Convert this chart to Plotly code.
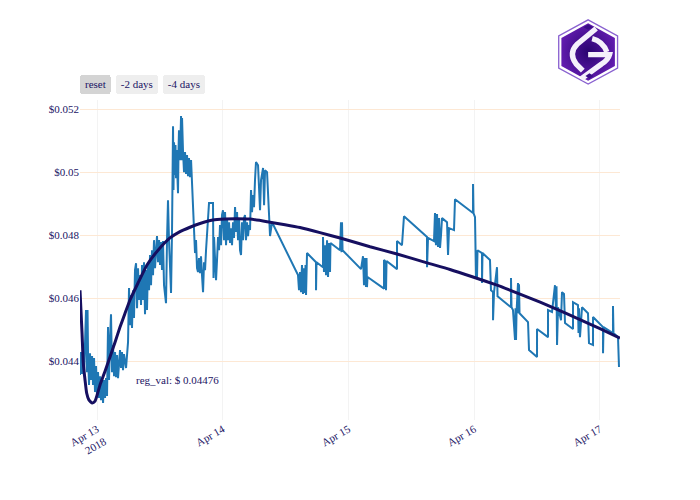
import base64
import pandas as pd
import plotly.graph_objects as go

base_day = "2018-04-13"
price_hours = [
-3.25,-3.05,-2.86,-2.67,-2.48,-2.29,-2.10,-1.91,-1.81,-1.72,-1.53,-1.34,-1.15,-0.95,-0.76,-0.57,-0.38,-0.19,0,.19,.38,.57,.76,.95,1.15,1.34,1.53,1.72,1.91,2.10,2.29,2.48,2.67,2.86,3.05,3.25,3.44,3.63,3.82,4.01,4.39,4.58,4.77,4.96,5.15,5.54,5.92,6.11,6.30,6.49,6.68,6.87,7.06,7.25,7.45,7.64,7.83,8.02,8.21,8.40,8.59,8.78,8.97,9.16,9.35,9.54,9.74,9.93,10.12,10.31,10.50,10.69,10.88,11.07,11.26,11.45,11.65,11.84,12.03,12.22,12.41,12.60,12.79,13.17,13.36,13.55,13.74,13.94,14.13,14.32,14.51,14.60,14.70,14.89,14.98,15.08,15.18,15.27,15.46,15.56,15.65,15.84,16.04,16.13,16.23,16.42,16.61,16.80,16.99,17.18,17.37,17.56,17.75,17.95,18.14,18.33,18.71,18.90,19.09,19.28,19.47,19.66,19.85,20.04,20.24,20.43,20.62,20.81,21.00,21.19,21.38,22.14,22.24,22.34,22.53,22.72,22.91,23.10,23.29,23.48,23.67,23.86,24.05,24.25,24.44,24.63,24.82,25.01,25.20,25.39,25.58,25.77,25.96,26.15,26.35,26.54,26.73,26.92,27.11,27.30,27.49,27.68,27.87,28.06,28.25,28.44,28.64,28.83,29.02,29.21,29.40,29.59,29.78,29.97,30.16,30.35,30.74,30.93,31.12,31.31,31.70,31.89,32.08,32.46,32.65,33.03,33.41,38.37,38.56,38.75,38.94,39.13,39.33,39.52,39.71,39.80,39.90,40.09,41.81,41.81,41.90,43.14,43.14,43.33,43.52,43.72,43.91,44.10,44.29,44.48,44.57,46.39,46.58,46.67,46.77,46.87,50.40,50.78,50.97,51.16,51.35,51.45,51.54,51.64,54.79,54.79,55.17,55.17,55.27,57.27,57.27,58.22,58.60,63.00,63.00,63.19,64.33,64.52,64.71,64.91,65.10,65.29,65.48,65.67,65.86,66.82,67.01,67.20,68.15,68.34,71.78,71.78,71.87,72.16,72.35,72.45,72.54,72.64,73.50,73.50,73.59,75.02,75.21,75.60,75.60,75.79,76.36,76.46,79.03,79.03,79.13,79.41,79.80,79.89,79.99,80.09,80.37,80.47,80.56,80.66,82.28,82.47,84.00,84.00,86.10,86.10,86.86,87.43,87.63,87.72,87.82,88.01,88.58,88.77,89.15,89.34,90.87,90.87,91.82,91.92,92.01,92.20,92.59,93.73,93.92,94.69,94.69,96.60,96.60,96.69,98.50,98.50,98.60,99.46,99.65]
price_values = [
.04356,.04429,.04359,.04397,.04352,.04467,.04562,.04365,.04562,.04429,.04324,.04425,.04340,.04416,.04324,.04410,.04302,.04384,.04289,.04365,.04283,.04352,.04276,.04346,.04267,.04340,.04283,.04346,.04289,.04508,.04340,.04467,.04549,.04365,.04451,.04352,.04429,.04349,.04419,.04346,.04435,.04378,.04429,.04371,.04422,.04378,.04460,.04632,.04514,.04610,.04505,.04625,.04537,.04689,.04711,.04568,.04695,.04594,.04673,.04578,.04705,.04594,.04714,.04549,.04689,.04562,.04714,.04625,.04737,.04641,.04752,.04673,.04784,.04695,.04768,.04797,.04714,.04784,.04705,.04778,.04689,.04781,.04641,.04584,.04784,.04911,.04784,.04657,.04616,.04816,.05146,.04943,.05095,.04991,.05086,.04981,.05070,.05022,.04933,.05070,.05133,.05038,.05178,.05038,.05172,.05064,.05000,.05064,.04994,.05054,.04987,.05045,.04984,.05038,.04975,.04889,.04743,.04784,.04695,.04683,.04727,.04679,.04733,.04673,.04619,.04714,.04689,.04752,.04794,.04864,.04902,.04902,.04664,.04794,.04714,.04657,.04721,.04794,.04752,.04832,.04768,.04864,.04879,.04784,.04873,.04768,.04854,.04784,.04841,.04775,.04822,.04768,.04841,.04791,.04889,.04810,.04873,.04784,.04854,.04752,.04737,.04841,.04784,.04854,.04864,.04784,.04841,.04797,.04832,.04816,.04943,.04873,.04927,.04889,.04975,.05032,.05022,.04927,.04879,.04975,.05013,.04895,.05006,.05000,.04943,.04797,.04841,.04673,.04625,.04683,.04619,.04705,.04613,.04695,.04616,.04705,.04610,.04743,.04714,.04625,.04714,.04698,.04794,.04683,.04768,.04673,.04784,.04667,.04775,.04683,.04775,.04752,.04841,.04746,.04841,.04752,.04692,.04733,.04641,.04727,.04635,.04727,.04635,.04667,.04630,.04721,.04714,.04625,.04718,.04692,.04781,.04768,.04860,.04794,.04698,.04791,.04781,.04870,.04768,.04867,.04762,.04854,.04759,.04800,.04854,.04841,.04737,.04822,.04816,.04914,.04870,.04962,.04870,.04857,.04667,.04752,.04664,.04752,.04743,.04648,.04743,.04721,.04625,.04619,.04530,.04619,.04698,.04606,.04571,.04664,.04571,.04562,.04467,.04568,.04467,.04556,.04648,.04552,.04644,.04552,.04524,.04435,.04413,.04502,.04476,.04562,.04556,.04641,.04562,.04638,.04451,.04571,.04530,.04619,.04613,.04521,.04502,.04587,.04578,.04489,.04568,.04476,.04571,.04552,.04457,.04451,.04540,.04508,.04425,.04508,.04489,.04575,.04489,.04476,.04381]
reg_hours = [-3.25,-2.86,-2.62,-2.29,-1.97,-1.53,-.90,-.38,.57,1.53,2.48,3.44,4.39,5.35,6.30,7.83,9.54,11.65,13.94,15.84,17.75,19.66,22.14,24.44,26.35,29.21,33.03,35.89,38.75,42.57,46.58,52.12,57.27,63.00,67.39,71.78,76.36,79.03,82.66,86.48,92.20,96.02,99.84]
reg_values = [.04625,.04489,.04394,.04340,.04298,.04276,.04267,.04273,.04324,.04368,.04413,.04460,.04508,.04552,.04594,.04648,.04705,.04752,.04791,.04811,.04825,.04837,.04848,.04851,.04852,.04851,.04841,.04833,.04824,.04808,.04790,.04763,.04740,.04712,.04691,.04667,.04641,.04624,.04600,.04574,.04532,.04503,.04473]
note_text = "reg_val: $ 0.04476"
buttons_spec = [("reset", "all", None), ("-2 days", "day", 2), ("-4 days", "day", 4)]

NAVY = "#160f60"
TEXT = "#1a1464"
FONT = "Liberation Serif"


def stamps(hours):
    return pd.Timestamp(base_day) + pd.to_timedelta(hours, unit="h")


logo = """<svg xmlns='http://www.w3.org/2000/svg' viewBox='0 0 100 100'>
<defs><radialGradient id='g' cx='50%' cy='50%' r='60%'><stop offset='0' stop-color='#2a0470'/><stop offset='1' stop-color='#6a1fb8'/></radialGradient></defs>
<polygon points='50,2 94,26 94,74 50,98 6,74 6,26' fill='#fff' stroke='#8a62d0' stroke-width='2'/>
<polygon points='50,7 90,29 90,71 50,93 10,71 10,29' fill='url(#g)'/>
<path d='M62 15 L34 38 Q20 52 32 68 L42 78' fill='none' stroke='#f4f0fb' stroke-width='8'/>
<path d='M56 30 Q72 34 78 50' fill='none' stroke='#f4f0fb' stroke-width='8'/>
<path d='M50 54 L82 54 Q80 62 70 68 L40 90' fill='none' stroke='#f4f0fb' stroke-width='8'/>
<polygon points='50,9 57,13 50,17 43,13' fill='#3a0d88'/>
<polygon points='58,86 52,90 46,86 52,82' fill='#3a0d88'/>
</svg>"""
logo_uri = "data:image/svg+xml;base64," + base64.b64encode(logo.encode()).decode()

fig = go.Figure()
fig.add_trace(go.Scatter(x=stamps(price_hours), y=price_values, mode="lines",
                         line=dict(color="#1f77b4", width=2), showlegend=False))
fig.add_trace(go.Scatter(x=stamps(reg_hours), y=reg_values, mode="lines",
                         line=dict(color=NAVY, width=3, shape="spline", smoothing=0.5), showlegend=False))
fig.add_annotation(x=pd.Timestamp(base_day) + pd.Timedelta(hours=15.27), y=.04340,
                   text=note_text, showarrow=False, font=dict(family=FONT, size=11, color=TEXT))
fig.add_layout_image(dict(source=logo_uri, xref="paper", yref="paper", x=0.879, y=1.2547,
                          sizex=0.124, sizey=0.209, sizing="contain",
                          xanchor="left", yanchor="top", layer="above"))
fig.update_layout(
    width=700, height=500, autosize=False, showlegend=False,
    margin=dict(l=80, r=80, t=100, b=80),
    paper_bgcolor="white", plot_bgcolor="white",
    font=dict(family=FONT, size=11, color=TEXT),
    xaxis=dict(
        type="date", autorange=True, tickangle=-30, showgrid=True, gridcolor="#f3f3f3",
        zeroline=False, showline=False, ticks="",
        tickfont=dict(family=FONT, size=11, color=TEXT),
        rangeselector=dict(
            font=dict(family=FONT, size=11, color=TEXT),
            buttons=[dict(label=l, step=s, **({"count": c, "stepmode": "backward"} if c else {}))
                     for l, s, c in buttons_spec],
        ),
    ),
    yaxis=dict(
        range=[.04213, .05229], dtick=.002, tickprefix="$", tickformat=".3~r",
        showgrid=True, gridcolor="#fde8d4", zeroline=False, showline=False, ticks="",
        tickfont=dict(family=FONT, size=11, color=TEXT),
    ),
)
fig.write_html("out.html", post_script="document.body.style.margin='0';",
               config={"displayModeBar": False})
